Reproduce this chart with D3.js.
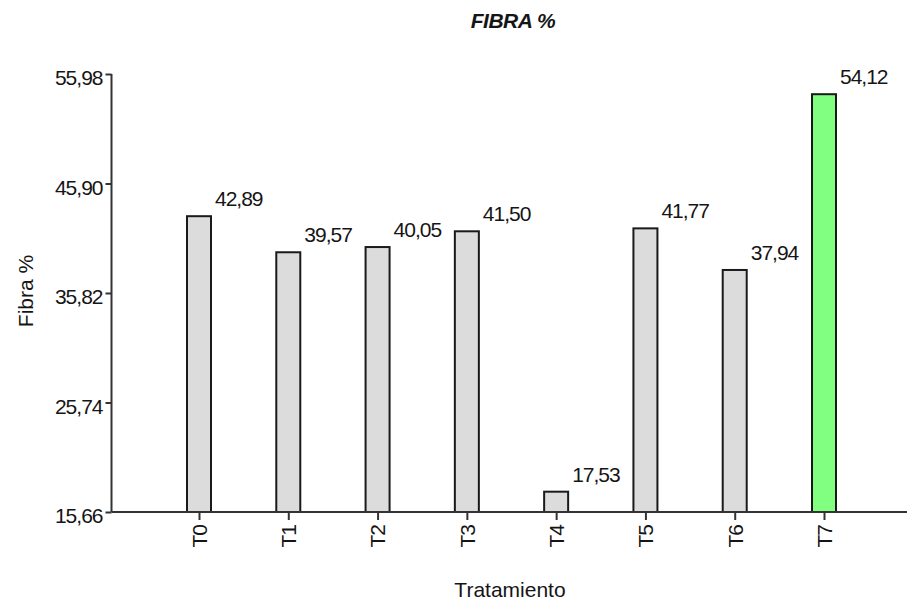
<!DOCTYPE html>
<html>
<head>
<meta charset="utf-8">
<script src="https://cdn.jsdelivr.net/npm/d3@7"></script>
<style>
  html, body { margin: 0; padding: 0; background: #fff; }
  svg { display: block; font-family: "Liberation Sans", Arial, sans-serif; }
</style>
</head>
<body>
<svg id="chart" width="907" height="604"></svg>
<script>
const categories = ["T0", "T1", "T2", "T3", "T4", "T5", "T6", "T7"];
const fibraValues = [42.89, 39.57, 40.05, 41.50, 17.53, 41.77, 37.94, 54.12];
const yTickValues = [15.66, 25.74, 35.82, 45.90, 55.98];
const barColors = ["#dcdcdc", "#dcdcdc", "#dcdcdc", "#dcdcdc", "#dcdcdc", "#dcdcdc", "#dcdcdc", "#80ff80"];
const titleText = "FIBRA %";
const yTitle = "Fibra %";
const xTitle = "Tratamiento";

const fmt = v => d3.format(".2f")(v).replace(".", ",");

const svg = d3.select("#chart");
const axisX = 111.5, baseY = 512, topY = 74;

const y = d3.scaleLinear().domain([15.66, 55.98]).range([baseY, topY]);
const x = d3.scalePoint().domain(categories).range([199, 824]);
const barW = 24;
const ink = "#151515";

// Title
svg.append("text").attr("x", 513).attr("y", 28).attr("text-anchor", "middle")
  .attr("font-size", 21).attr("font-weight", "bold").attr("font-style", "italic")
  .attr("letter-spacing", "-0.5px")
  .attr("fill", ink).text(titleText);

// Bars
svg.append("g").selectAll("rect").data(fibraValues).join("rect")
  .attr("x", (d, i) => x(categories[i]) - barW / 2)
  .attr("y", d => y(d))
  .attr("width", barW)
  .attr("height", d => baseY - y(d))
  .attr("fill", (d, i) => barColors[i])
  .attr("stroke", "#1a1a1a").attr("stroke-width", 2);

// Value labels
svg.append("g").selectAll("text").data(fibraValues).join("text")
  .attr("x", (d, i) => x(categories[i]) + barW / 2 + 4)
  .attr("y", d => y(d) - 10)
  .attr("font-size", 21).attr("letter-spacing", "-1px").attr("fill", ink)
  .text(d => fmt(d));

// Y axis
const yAxis = d3.axisLeft(y).tickValues(yTickValues).tickSize(6).tickPadding(3)
  .tickFormat(d => fmt(d));
const gy = svg.append("g").attr("transform", `translate(${axisX},0)`).call(yAxis);
gy.select(".domain").attr("stroke", "#333").attr("stroke-width", 2).attr("d", `M0,${topY}V${baseY}`);
gy.selectAll(".tick line").attr("stroke", "#333").attr("stroke-width", 2);
gy.selectAll(".tick text").attr("font-size", 21).attr("letter-spacing", "-1px")
  .attr("fill", ink).attr("font-family", null)
  .attr("dy", "0.5em");

// X axis baseline
svg.append("line").attr("x1", axisX).attr("x2", 907).attr("y1", baseY).attr("y2", baseY)
  .attr("stroke", "#333").attr("stroke-width", 2);

const xAxis = d3.axisBottom(x).tickSize(8).tickSizeOuter(0);
const gx = svg.append("g").attr("transform", `translate(0,${baseY})`).call(xAxis);
gx.select(".domain").remove();
gx.selectAll(".tick line").attr("stroke", "#333").attr("stroke-width", 2);
gx.selectAll(".tick text").attr("font-size", 21).attr("letter-spacing", "-1px")
  .attr("fill", ink).attr("font-family", null)
  .attr("text-anchor", "end").attr("dy", "0.35em").attr("y", 0).attr("x", 0)
  .attr("transform", "translate(0,13) rotate(-90)");

// Axis titles
svg.append("text").attr("transform", "translate(33,291) rotate(-90)")
  .attr("text-anchor", "middle").attr("font-size", 21).attr("fill", ink).text(yTitle);
svg.append("text").attr("x", 510).attr("y", 597).attr("text-anchor", "middle")
  .attr("font-size", 21).attr("fill", ink).text(xTitle);
</script>
</body>
</html>
